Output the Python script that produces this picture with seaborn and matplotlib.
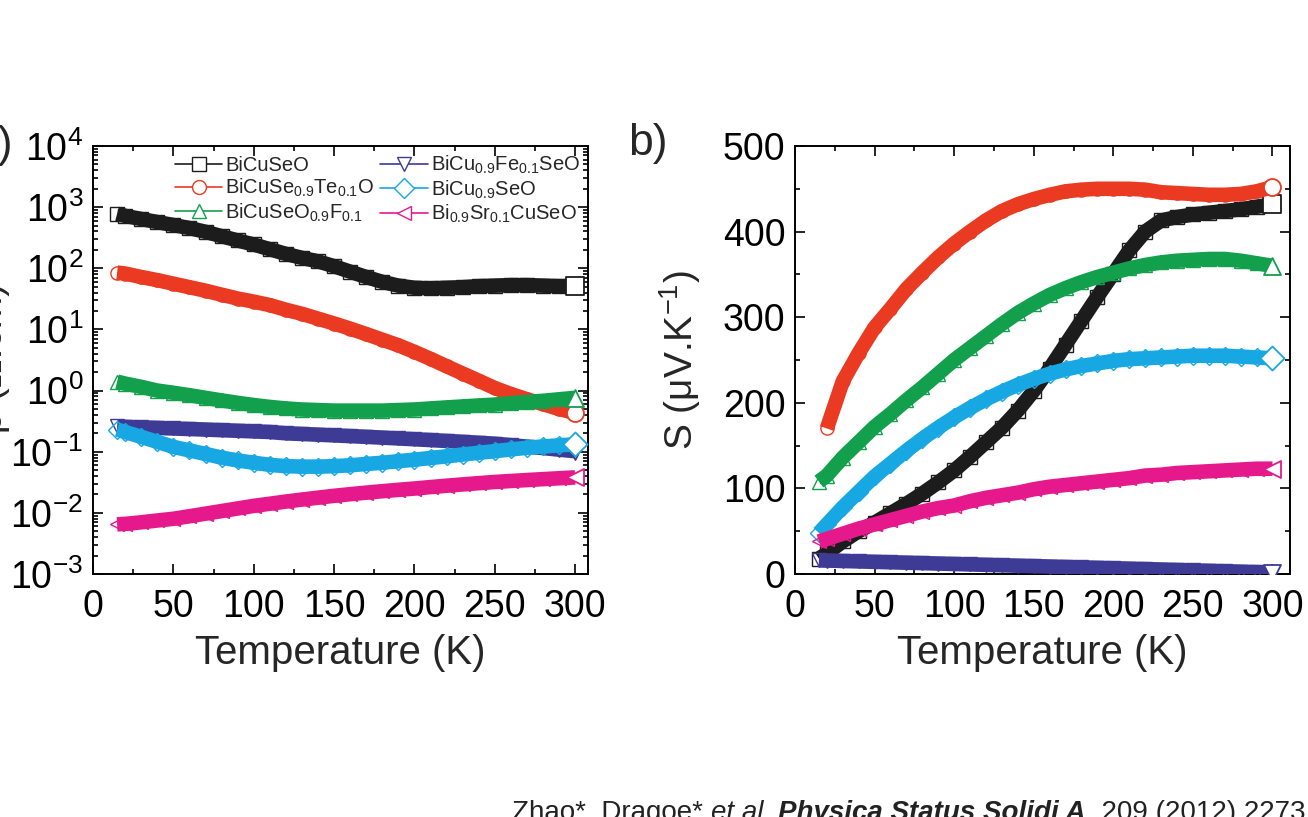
import numpy as np
import pandas as pd
import seaborn as sns
import matplotlib
matplotlib.use("Agg")
import matplotlib.pyplot as plt
from matplotlib.lines import Line2D
from matplotlib.ticker import MultipleLocator, LogLocator, NullFormatter

# ---------------- data ----------------
temperature = [15, 20, 30, 40, 50, 60, 70, 80, 90, 100, 110, 120, 130, 140, 150,
               160, 170, 180, 190, 200, 210, 220, 230, 240, 250, 260, 270, 280, 290, 300]

series_labels = [r"BiCuSeO",
                 r"BiCuSe$_\mathregular{0.9}$Te$_\mathregular{0.1}$O",
                 r"BiCuSeO$_\mathregular{0.9}$F$_\mathregular{0.1}$",
                 r"BiCu$_\mathregular{0.9}$Fe$_\mathregular{0.1}$SeO",
                 r"BiCu$_\mathregular{0.9}$SeO",
                 r"Bi$_\mathregular{0.9}$Sr$_\mathregular{0.1}$CuSeO"]
series_colors = ["#1c1c1c", "#ea3a22", "#13a04c", "#3d3b96", "#17a8e3", "#e5198c"]
series_markers = ["s", "o", "^", "v", "D", "<"]

# resistivity (Ohm.cm)
rho_BiCuSeO = [780, 720, 640, 570, 510, 455, 395, 335, 285, 245, 205, 172, 148, 130, 108,
               88, 72, 60, 52, 48, 47, 48, 49, 51, 52, 53, 53, 52, 51, 51]
rho_Te = [85, 82, 72, 64, 56, 49, 43, 37, 32, 28.5, 25, 21, 18, 15, 12.5,
          10.3, 8.4, 6.8, 5.5, 4.3, 3.3, 2.5, 1.9, 1.45, 1.1, 0.88, 0.72, 0.6, 0.5, 0.43]
rho_F = [1.4, 1.3, 1.15, 1.0, 0.92, 0.84, 0.76, 0.69, 0.63, 0.58, 0.54, 0.51, 0.49, 0.48, 0.47,
         0.47, 0.47, 0.47, 0.48, 0.49, 0.51, 0.53, 0.55, 0.57, 0.59, 0.62, 0.65, 0.68, 0.72, 0.76]
rho_Fe = [0.26, 0.255, 0.25, 0.245, 0.24, 0.235, 0.23, 0.225, 0.22, 0.215, 0.21, 0.2, 0.195, 0.19, 0.185,
          0.18, 0.175, 0.17, 0.165, 0.16, 0.155, 0.15, 0.145, 0.14, 0.135, 0.128, 0.121, 0.115, 0.108, 0.102]
rho_Cu09 = [0.23, 0.21, 0.175, 0.145, 0.12, 0.105, 0.092, 0.08, 0.072, 0.066, 0.061, 0.058, 0.057, 0.057, 0.058,
            0.06, 0.063, 0.066, 0.07, 0.074, 0.079, 0.084, 0.09, 0.096, 0.102, 0.109, 0.116, 0.122, 0.127, 0.132]
rho_Sr = [0.0065, 0.0066, 0.007, 0.0075, 0.008, 0.0088, 0.0097, 0.0107, 0.0118, 0.013, 0.0141, 0.0153, 0.0165, 0.0177, 0.019,
          0.0202, 0.0214, 0.0226, 0.0238, 0.025, 0.0264, 0.0278, 0.0292, 0.0306, 0.032, 0.0332, 0.0344, 0.0356, 0.0368, 0.038]

# Seebeck coefficient (uV/K)
S_BiCuSeO = [18, 24, 38, 50, 60, 71, 82, 94, 107, 121, 137, 154, 171, 191, 214,
             240, 268, 296, 324, 351, 378, 400, 413, 417, 420, 422, 424, 426, 429, 432]
S_Te = [np.nan, 170, 225, 258, 288, 310, 333, 352, 370, 386, 400, 413, 424, 432, 438,
        443, 447, 449, 450, 450, 450, 449, 446, 445, 444, 443, 443, 444, 447, 452]
S_F = [108, 115, 136, 154, 172, 187, 203, 218, 234, 250, 264, 278, 292, 305, 316,
       326, 334, 341, 347, 352, 357, 361, 364, 366, 367, 368, 368, 366, 363, 360]
S_Fe = [16, 15.7, 15.2, 14.7, 14.2, 13.7, 13.2, 12.7, 12.2, 11.7, 11.2, 10.7, 10.2, 9.7, 9.2,
        8.7, 8.2, 7.7, 7.2, 6.7, 6.2, 5.7, 5.2, 4.7, 4.2, 3.7, 3.2, 2.7, 2.2, 1.7]
S_Cu09 = [48, 58, 78, 96, 114, 129, 144, 158, 171, 183, 194, 204, 213, 221, 228,
          234, 239, 243, 246, 249, 251, 252, 253, 254, 255, 255, 255, 254, 253, 252]
S_Sr = [38, 41, 47, 53, 58, 63, 68, 73, 77, 80, 85, 89, 92, 95, 99,
        102, 104, 106, 108, 110, 112, 115, 116, 118, 119, 120, 121, 122, 123, 123]

rho_series = [rho_BiCuSeO, rho_Te, rho_F, rho_Fe, rho_Cu09, rho_Sr]
S_series = [S_BiCuSeO, S_Te, S_F, S_Fe, S_Cu09, S_Sr]

x_ticks = [0, 50, 100, 150, 200, 250, 300]

# ---------------- style ----------------
sns.set_theme(style="ticks")
plt.rcParams["font.family"] = ["Liberation Sans", "DejaVu Sans"]
plt.rcParams["mathtext.fontset"] = "custom"
plt.rcParams["mathtext.rm"] = "Liberation Sans"
plt.rcParams["mathtext.it"] = "Liberation Sans:italic"
plt.rcParams["mathtext.bf"] = "Liberation Sans:bold"
plt.rcParams["axes.unicode_minus"] = False

W, H = 1308, 817
fig = plt.figure(figsize=(W / 100, H / 100), dpi=100)
fig.patch.set_facecolor("white")

ax1 = fig.add_axes([93 / W, 1 - 574 / H, 495 / W, 428 / H])
ax2 = fig.add_axes([795 / W, 1 - 574 / H, 495 / W, 428 / H])
ax1.set_yscale("log")


def draw_band(ax, yvals, color, marker, z):
    df = pd.DataFrame({"T": temperature, "v": yvals}).dropna()
    sns.lineplot(data=df, x="T", y="v", ax=ax, color=color, linewidth=10.5,
                 marker=marker, markersize=9.5, markerfacecolor="none",
                 markeredgecolor=color, markeredgewidth=1.0,
                 solid_capstyle="butt", legend=False, estimator=None,
                 sort=False, zorder=z)
    last = df.iloc[[-1]]
    sns.scatterplot(data=last, x="T", y="v", ax=ax, marker=marker, s=150,
                    facecolor="white", edgecolor=color, linewidth=1.3,
                    legend=False, zorder=z + 0.5)


for i, (vals, c, m) in enumerate(zip(rho_series, series_colors, series_markers)):
    draw_band(ax1, vals, c, m, 3 + i)
for i, (vals, c, m) in enumerate(zip(S_series, series_colors, series_markers)):
    draw_band(ax2, vals, c, m, 3 + i)

# ---------------- axes ----------------
for ax in (ax1, ax2):
    ax.set_xlim(0, 308)
    ax.set_xticks(x_ticks)
    ax.xaxis.set_minor_locator(MultipleLocator(25))
    ax.tick_params(which="both", direction="in", top=True, right=True,
                   width=1.2, colors="black")
    ax.tick_params(which="major", length=7, labelsize=27, pad=7)
    ax.tick_params(which="minor", length=3.5)
    ax.tick_params(axis="x", which="major", pad=11)
    for sp in ax.spines.values():
        sp.set_linewidth(1.4)
        sp.set_color("black")
    ax.set_xlabel("Temperature (K)", fontsize=29, labelpad=6)
    ax.set_facecolor("white")

ax2.set_xlim(0, 311)

ax1.set_ylim(1e-3, 1e4)
ax1.yaxis.set_major_locator(LogLocator(base=10, numticks=20))
ax1.yaxis.set_minor_locator(LogLocator(base=10, subs=np.arange(2, 10), numticks=100))
ax1.yaxis.set_minor_formatter(NullFormatter())
ax1.set_ylabel("")

ax2.set_ylim(0, 500)
ax2.yaxis.set_major_locator(MultipleLocator(100))
ax2.yaxis.set_minor_locator(MultipleLocator(50))
ax2.set_ylabel(r"S (μV.K$^{\mathregular{-1}}$)", fontsize=28, labelpad=14)

# legend
handles = [Line2D([0], [0], color=c, lw=1.2, marker=m, markersize=10,
                  markerfacecolor="white", markeredgecolor=c, markeredgewidth=1.0)
           for c, m in zip(series_colors, series_markers)]
ax1.legend(handles, series_labels, ncol=2, loc="upper right",
           bbox_to_anchor=(1.0, 1.0), frameon=False, fontsize=14.5,
           handlelength=2.35, handletextpad=0.15, columnspacing=0.3,
           labelspacing=0.1, borderaxespad=0.2, borderpad=0.2)

# panel labels and cropped y label
fig.text(13 / W, 1 - 145 / H, "a)", fontsize=32, ha="right", va="center")
fig.text(628 / W, 1 - 143 / H, "b)", fontsize=32, ha="left", va="center")
fig.text(-8 / W, 1 - 358 / H, "ρ (Ω.cm)", fontsize=28, rotation=90,
         ha="center", va="center")

# citation
renderer = fig.canvas.get_renderer()
pieces = [("Zhao*, Dragoe* ", "normal", "normal"),
          ("et al. ", "italic", "normal"),
          ("Physica Status Solidi A", "italic", "bold"),
          (", 209 (2012) 2273", "normal", "normal")]
xpos = 512
for txt, st, wt in pieces:
    t = fig.text(xpos / W, -3 / H, txt, fontsize=20, style=st, weight=wt,
                 ha="left", va="baseline", color="#222222")
    bb = t.get_window_extent(renderer)
    xpos += bb.width

fig.savefig("out.png", dpi=100, facecolor="white")
